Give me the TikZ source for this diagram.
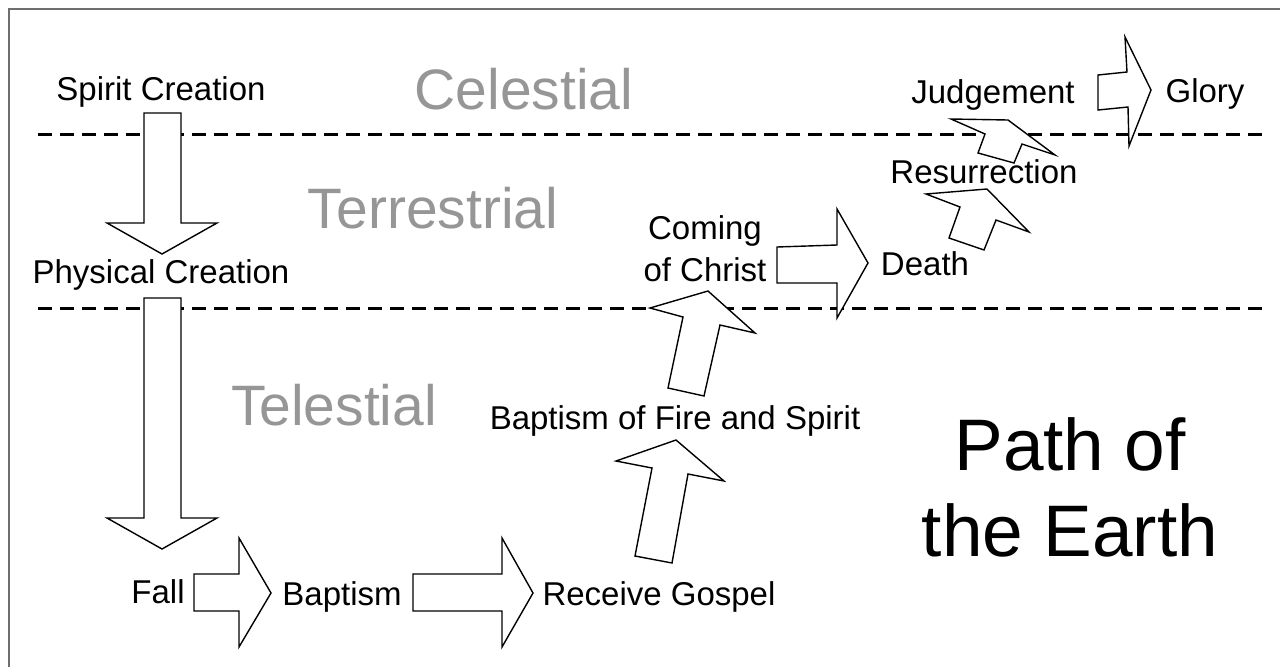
\documentclass[tikz,border=0pt]{standalone}
\usepackage{fontspec}
\setmainfont{Liberation Sans}
\definecolor{levelgray}{RGB}{150,150,150}
\definecolor{framegray}{RGB}{110,110,110}
\begin{document}
\begin{tikzpicture}[x=1pt,y=-1pt,
  lbl/.style={inner sep=0pt,outer sep=0pt,font=\fontsize{33}{42}\selectfont,text=black},
  level/.style={inner sep=0pt,outer sep=0pt,font=\fontsize{57}{68}\selectfont,text=levelgray},
  title/.style={inner sep=0pt,outer sep=0pt,font=\fontsize{73}{86}\selectfont,text=black,align=center},
  blockarrow/.style={draw=black,fill=white,line width=1.4pt,line join=miter},
  divider/.style={draw=black,line width=3pt,dash pattern=on 14pt off 8pt},
  frameline/.style={draw=framegray,line width=1.8pt}]
\useasboundingbox (0,0) rectangle (1280,667);
% frame
\draw[frameline] (9,667) -- (9,9) -- (1280,9);
% level dividers
\draw[divider] (38,134) -- (1263,134);
\draw[divider] (38,308) -- (1263,308);
% level names
\node[level,anchor=base] (celestial) at (524,109) {Celestial};
\node[level,anchor=base] (terrestrial) at (433,228) {Terrestrial};
\node[level,anchor=base] (telestial) at (334,425) {Telestial};
% block arrows
\draw[blockarrow] (144,113) -- (181,113) -- (181,223) -- (217,223) -- (162,254) -- (107,223) -- (144,223) -- cycle;
\draw[blockarrow] (144,298) -- (181,298) -- (181,518) -- (217,518) -- (162,549) -- (107,518) -- (144,518) -- cycle;
\draw[blockarrow] (194,574) -- (239,574) -- (239,538) -- (271,593) -- (239,647) -- (239,611) -- (194,611) -- cycle;
\draw[blockarrow] (413,574) -- (502,574) -- (502,538) -- (533,593) -- (502,647) -- (502,611) -- (413,611) -- cycle;
\draw[blockarrow] (635,556) -- (652,468) -- (616,461) -- (676,440) -- (724,481) -- (688,474) -- (672,563) -- cycle;
\draw[blockarrow] (668,388) -- (683,317) -- (650,308) -- (708,291) -- (755,333) -- (720,325) -- (704,396) -- cycle;
\draw[blockarrow] (777,247) -- (837,245) -- (837,209) -- (868,263) -- (837,318) -- (837,283) -- (777,283) -- cycle;
\draw[blockarrow] (949,238) -- (960,207) -- (926,194) -- (987,189) -- (1029,232) -- (996,220) -- (984,250) -- cycle;
\draw[blockarrow] (978,153) -- (985,134) -- (951,119) -- (1008,120) -- (1055,155) -- (1022,144) -- (1014,163) -- cycle;
\draw[blockarrow] (1098,75) -- (1127,72) -- (1125,37) -- (1151,90) -- (1129,146) -- (1128,107) -- (1098,110) -- cycle;
% stage labels
\node[lbl,anchor=base] (spirit) at (161,100) {Spirit Creation};
\node[lbl,anchor=base] (physical) at (161,283) {Physical Creation};
\node[lbl,anchor=base] (fall) at (158,603) {Fall};
\node[lbl,anchor=base] (baptism) at (342,605) {Baptism};
\node[lbl,anchor=base] (receive) at (659,605) {Receive Gospel};
\node[lbl,anchor=base] (fire) at (675,429) {Baptism of Fire and Spirit};
\node[lbl,anchor=south,align=center] (coming) at (705,282) {Coming\\of Christ};
\node[lbl,anchor=base] (death) at (925,275) {Death};
\node[lbl,anchor=base] (resurrection) at (984,183) {Resurrection};
\node[lbl,anchor=base] (judgement) at (993,103) {Judgement};
\node[lbl,anchor=base] (glory) at (1205,102) {Glory};
% title
\node[title,anchor=south] (pathtitle) at (1070,557) {Path of\\the Earth};
\end{tikzpicture}
\end{document}
